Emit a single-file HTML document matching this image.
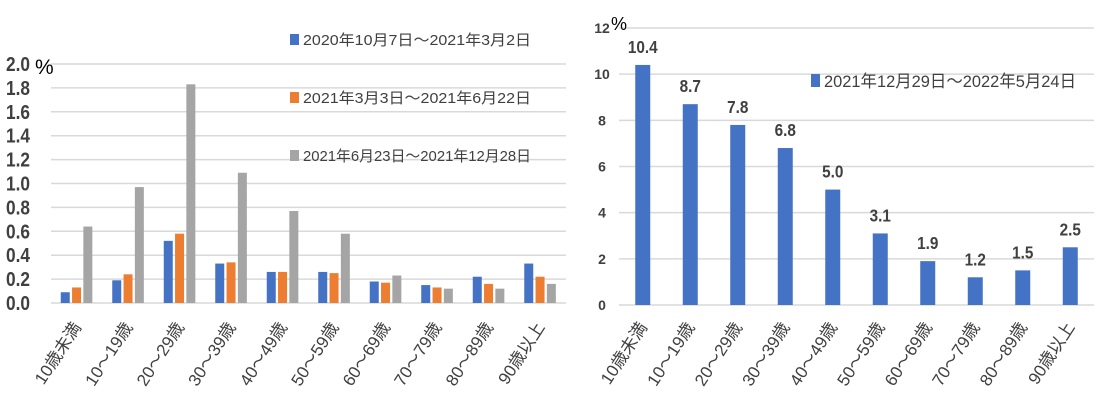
<!DOCTYPE html>
<html><head><meta charset="utf-8"><style>
body{margin:0;background:#fff;}
svg{display:block;font-family:"Liberation Sans","Noto Sans CJK JP",sans-serif;}
</style></head><body>
<svg id="c" width="1096" height="416">
<g id="left"></g>
<g id="right"></g>
</svg>
<script>
const categories=["10歳未満","10～19歳","20～29歳","30～39歳","40～49歳","50～59歳","60～69歳","70～79歳","80～89歳","90歳以上"];
const seriesA=[0.09,0.19,0.52,0.33,0.26,0.26,0.18,0.15,0.22,0.33];
const seriesB=[0.13,0.24,0.58,0.34,0.26,0.25,0.17,0.13,0.16,0.22];
const seriesC=[0.64,0.97,1.83,1.09,0.77,0.58,0.23,0.12,0.12,0.16];
const seriesNames=["2020年10月7日～2021年3月2日","2021年3月3日～2021年6月22日","2021年6月23日～2021年12月28日"];
const leftTicks=["0.0","0.2","0.4","0.6","0.8","1.0","1.2","1.4","1.6","1.8","2.0"];
const rightValues=[10.4,8.7,7.8,6.8,5.0,3.1,1.9,1.2,1.5,2.5];
const rightLabels=["10.4","8.7","7.8","6.8","5.0","3.1","1.9","1.2","1.5","2.5"];
const rightTicks=["0","2","4","6","8","10","12"];
const rightName="2021年12月29日～2022年5月24日";
const colors=["#4472C4","#ED7D31","#A5A5A5"];
const NS="http://www.w3.org/2000/svg";
function mk(p,t,a,txt){const e=document.createElementNS(NS,t);for(const k in a)e.setAttribute(k,a[k]);if(txt!=null)e.textContent=txt;p.appendChild(e);return e;}
// Left
const L=document.getElementById('left');
const lx0=51,lx1=566,ly0=303,ly1=64,lmax=2.0;
const ly=v=>ly0-(v/lmax)*(ly0-ly1);
const lbw=(lx1-lx0)/categories.length;
const lcx=i=>lx0+lbw*(i+0.5);
leftTicks.forEach(t=>{const v=parseFloat(t);
const g=mk(L,'line',{x1:lx0,x2:lx1,y1:ly(v),y2:ly(v),stroke:'#D9D9D9','stroke-width':1.5});

const tx=mk(L,'text',{x:6,y:ly(v)+7,'font-size':20,'font-weight':'bold',fill:'#404040',textLength:24,lengthAdjust:'spacingAndGlyphs'},t);
});
const lu=mk(L,'text',{x:35,y:74,'font-size':21,fill:'#000'},'%');

[seriesA,seriesB,seriesC].forEach((s,si)=>s.forEach((v,i)=>{
const x=lcx(i)-16+si*11.3;
const r=mk(L,'rect',{x:x,y:ly(v),width:9,height:ly0-ly(v),fill:colors[si]});
}));
categories.forEach((c,i)=>{const x=lcx(i)+5,y=327;
const t=mk(L,'text',{x:x,y:y,'text-anchor':'end','font-size':17,fill:'#404040',transform:`rotate(-57 ${x} ${y})`},c);
});
seriesNames.forEach((n,si)=>{const y=40+si*58;
const r=mk(L,'rect',{x:290,y:y-6,width:9,height:11,fill:colors[si]});

const t=mk(L,'text',{x:303,y:y+5,'font-size':15,fill:'#404040',textLength:228,lengthAdjust:'spacingAndGlyphs'},n);
});
// Right
const R=document.getElementById('right');
const rx0=619,rx1=1094,ry0=305,ry1=28,rmax=12;
const ry=v=>ry0-(v/rmax)*(ry0-ry1);
const rbw=(rx1-rx0)/categories.length;
const rcx=i=>rx0+rbw*(i+0.5);
rightTicks.forEach(t=>{const v=parseFloat(t);
const g=mk(R,'line',{x1:rx0,x2:rx1,y1:ry(v),y2:ry(v),stroke:'#D9D9D9','stroke-width':1.5});

const tx=mk(R,'text',{x:602,y:ry(v)+5,'text-anchor':'middle','font-size':14,'font-weight':'bold',fill:'#404040'},t);
});
const ru=mk(R,'text',{x:611,y:30,'font-size':18,fill:'#000'},'%');

rightValues.forEach((v,i)=>{
const r=mk(R,'rect',{x:rcx(i)-7.5,y:ry(v),width:15,height:ry0-ry(v),fill:colors[0]});

const t=mk(R,'text',{x:rcx(i),y:ry(v)-12,'text-anchor':'middle','font-size':18,'font-weight':'bold',fill:'#404040',transform:`translate(${rcx(i)},0) scale(0.85,1) translate(${-rcx(i)},0)`},rightLabels[i]);
});
categories.forEach((c,i)=>{const x=rcx(i)+5,y=327;
const t=mk(R,'text',{x:x,y:y,'text-anchor':'end','font-size':17,fill:'#404040',transform:`rotate(-57 ${x} ${y})`},c);
});
const rs=mk(R,'rect',{x:811,y:74,width:9,height:13,fill:colors[0]});

const rl=mk(R,'text',{x:824,y:87,'font-size':17,fill:'#404040',textLength:252,lengthAdjust:'spacingAndGlyphs'},rightName);

</script>
</body></html>
